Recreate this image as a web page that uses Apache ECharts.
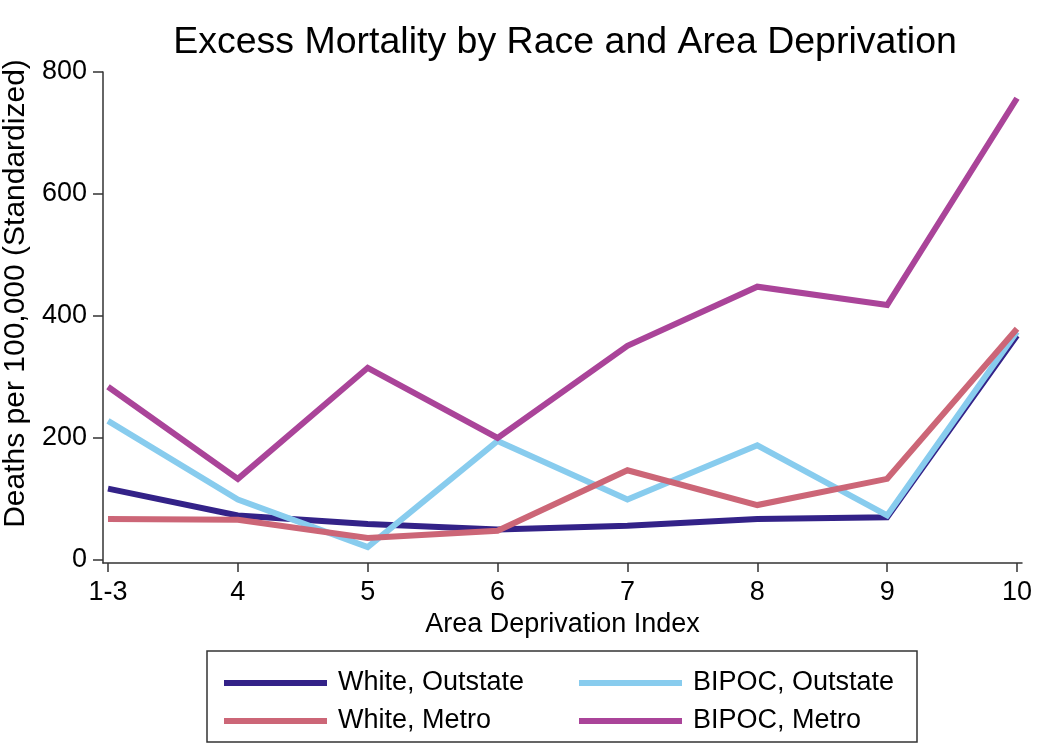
<!DOCTYPE html>
<html>
<head>
<meta charset="utf-8">
<script src="https://cdn.jsdelivr.net/npm/echarts@6/dist/echarts.min.js"></script>
<style>
  html, body { margin: 0; padding: 0; background: #fff; }
  #chart { width: 1050px; height: 752px; }
</style>
</head>
<body>
<div id="chart"></div>
<script>
const categories = ['1-3', '4', '5', '6', '7', '8', '9', '10'];
const whiteOutstate = [117, 73, 59, 50, 56, 67, 70, 368];
const bipocOutstate = [228, 99, 21, 195, 99, 188, 73, 374];
const whiteMetro = [67, 66, 36, 48, 147, 90, 133, 379];
const bipocMetro = [284, 133, 315, 200, 351, 448, 418, 757];
const yTicks = [0, 200, 400, 600, 800];

const FONT = '"Liberation Sans", Arial, Helvetica, sans-serif';
const chart = echarts.init(document.getElementById('chart'), null, { renderer: 'canvas' });

function toPairs(arr) { return arr.map((v, i) => [i, v]); }

const seriesDefs = [
  { name: 'White, Outstate', data: whiteOutstate, color: '#332288' },
  { name: 'BIPOC, Outstate', data: bipocOutstate, color: '#88ccee' },
  { name: 'White, Metro', data: whiteMetro, color: '#cc6677' },
  { name: 'BIPOC, Metro', data: bipocMetro, color: '#aa4499' }
];

const legendCommon = {
  orient: 'vertical',
  top: 663,
  icon: 'rect',
  itemWidth: 103,
  itemHeight: 6,
  itemGap: 8,
  selectedMode: false,
  textStyle: { fontFamily: FONT, fontSize: 27, color: '#000', lineHeight: 30, padding: [0, 0, 0, 6] }
};

chart.setOption({
  backgroundColor: '#fff',
  animation: false,
  title: {
    text: 'Excess Mortality by Race and Area Deprivation',
    left: 560, top: 19, textAlign: 'center',
    textStyle: { fontFamily: FONT, fontSize: 37.5, fontWeight: 'normal', color: '#000' }
  },
  grid: { left: 103, right: 28, top: 72, bottom: 189, containLabel: false, outerBoundsMode: 'none' },
  xAxis: {
    type: 'value',
    min: -0.0385, max: 7.0385,
    name: 'Area Deprivation Index',
    nameLocation: 'middle', nameGap: 46,
    nameTextStyle: { fontFamily: FONT, fontSize: 27, color: '#000' },
    splitLine: { show: false },
    axisLine: { show: true, onZero: false, lineStyle: { color: '#333', width: 1.5 } },
    axisTick: { show: true, length: 9, customValues: categories.map((c, i) => i), lineStyle: { color: '#333', width: 1.5 } },
    axisLabel: {
      customValues: categories.map((c, i) => i),
      formatter: v => categories[Math.round(v)],
      fontFamily: FONT, fontSize: 27, color: '#000', margin: 16
    }
  },
  yAxis: {
    type: 'value',
    min: -5, max: 800,
    name: 'Deaths per 100,000 (Standardized)',
    nameLocation: 'middle', nameGap: 67,
    nameTextStyle: { fontFamily: FONT, fontSize: 30, color: '#000', padding: [0, 0, 0, 48] },
    splitLine: { show: false },
    axisLine: { show: true, onZero: false, lineStyle: { color: '#333', width: 1.5 } },
    axisTick: { show: true, length: 10, customValues: yTicks, lineStyle: { color: '#333', width: 1.5 } },
    axisLabel: {
      customValues: yTicks,
      fontFamily: FONT, fontSize: 27, color: '#000', margin: 16
    }
  },
  legend: [
    Object.assign({}, legendCommon, { left: 219, data: ['White, Outstate', 'White, Metro'] }),
    Object.assign({}, legendCommon, { left: 574, data: ['BIPOC, Outstate', 'BIPOC, Metro'] })
  ],
  graphic: [{
    type: 'rect',
    shape: { x: 207, y: 651, width: 710, height: 91 },
    style: { fill: 'none', stroke: '#333', lineWidth: 1.5 },
    silent: true
  }],
  series: seriesDefs.map((s, k) => ({
    name: s.name,
    type: 'line',
    data: toPairs(s.data),
    showSymbol: false,
    symbol: 'none',
    z: 2 + k,
    color: s.color,
    lineStyle: { color: s.color, width: 6, join: 'miter' },
    itemStyle: { color: s.color }
  }))
});
</script>
</body>
</html>
